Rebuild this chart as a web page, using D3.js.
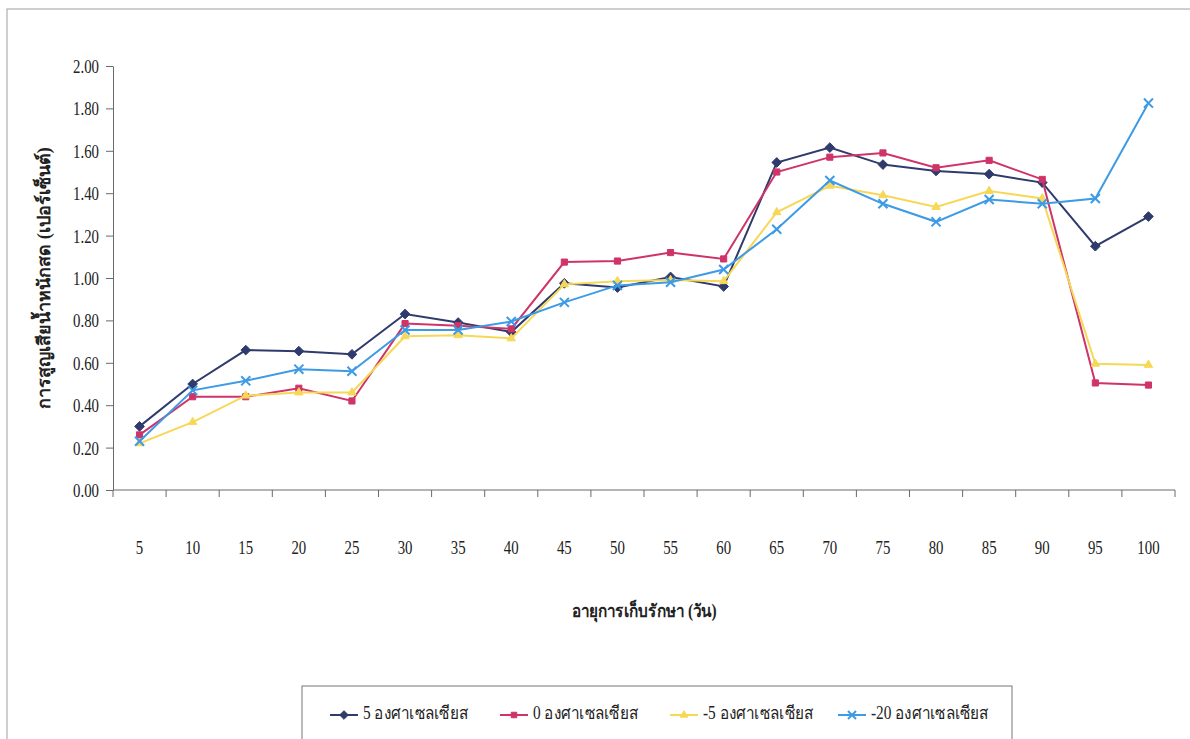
<!DOCTYPE html>
<html>
<head>
<meta charset="utf-8">
<script src="https://cdn.jsdelivr.net/npm/d3@7"></script>
<style>
  body { margin: 0; background: #fff; }
  svg { display: block; }
</style>
</head>
<body>
<svg id="chart" width="1190" height="739"></svg>
<script>
const WIDTH = 1190;
const HEIGHT = 739;

// storage days
const days = [5, 10, 15, 20, 25, 30, 35, 40, 45, 50, 55, 60, 65, 70, 75, 80, 85, 90, 95, 100];
const yTicks = [0, 0.2, 0.4, 0.6, 0.8, 1.0, 1.2, 1.4, 1.6, 1.8, 2.0];

const temp5 = [0.30, 0.50, 0.66, 0.655, 0.64, 0.83, 0.79, 0.745, 0.975, 0.955, 1.005, 0.96,
  1.545, 1.615, 1.535, 1.505, 1.49, 1.45, 1.15, 1.29];
const temp0 = [0.26, 0.44, 0.44, 0.48, 0.42, 0.785, 0.775, 0.76, 1.075, 1.08, 1.12, 1.09,
  1.50, 1.57, 1.59, 1.52, 1.555, 1.465, 0.505, 0.495];
const tempMinus5 = [0.22, 0.32, 0.445, 0.46, 0.46, 0.725, 0.73, 0.715, 0.97, 0.985, 0.99, 0.985,
  1.31, 1.435, 1.39, 1.335, 1.41, 1.375, 0.595, 0.59];
const tempMinus20 = [0.23, 0.47, 0.515, 0.57, 0.56, 0.755, 0.755, 0.795, 0.885, 0.965, 0.98, 1.04,
  1.23, 1.46, 1.35, 1.265, 1.37, 1.35, 1.375, 1.825];

const seriesNames = ['5 องศาเซลเซียส', '0 องศาเซลเซียส', '-5 องศาเซลเซียส', '-20 องศาเซลเซียส'];

const series = [
  { name: seriesNames[0], values: temp5, color: '#2f3b6c', marker: d3.symbolDiamond2, size: 60, fill: true },
  { name: seriesNames[1], values: temp0, color: '#cf3468', marker: d3.symbolSquare2, size: 48, fill: true },
  { name: seriesNames[2], values: tempMinus5, color: '#f7d856', marker: d3.symbolTriangle2, size: 50, fill: true },
  { name: seriesNames[3], values: tempMinus20, color: '#3d9be6', marker: d3.symbolX, size: 55, fill: false },
];

const margin = { left: 113, right: 15, top: 66, bottom: 249 };
const svg = d3.select('#chart');

// outer frame
svg.append('rect')
  .attr('x', 7).attr('y', 9)
  .attr('width', 1190).attr('height', 760)
  .attr('fill', 'none')
  .attr('stroke', '#a0a0a0')
  .attr('stroke-width', 1);

const x = d3.scaleBand().domain(days).range([margin.left, WIDTH - margin.right]);
const y = d3.scaleLinear().domain([0, 2]).range([HEIGHT - margin.bottom, margin.top]);
const serifFont = 'Liberation Serif, Times New Roman, DejaVu Serif, serif';
const NUM_SIZE = 19;
const NUM_SQUEEZE = 0.78;

// y axis
const yAxis = svg.append('g')
  .attr('transform', `translate(${margin.left},0)`)
  .call(d3.axisLeft(y).tickValues(yTicks).tickFormat(d3.format('.2f')).tickSize(7).tickSizeOuter(0));
yAxis.attr('font-family', null).attr('font-size', null);
yAxis.select('.domain').attr('stroke', '#6a6a6a');
yAxis.selectAll('.tick line').attr('stroke', '#6a6a6a');
yAxis.selectAll('text')
  .attr('font-family', serifFont)
  .attr('font-size', NUM_SIZE)
  .attr('fill', '#222')
  .attr('x', -14 / NUM_SQUEEZE)
  .attr('dy', '0.34em')
  .attr('transform', `scale(${NUM_SQUEEZE},1)`);

// x axis (ticks between categories)
const xAxisG = svg.append('g').attr('transform', `translate(0,${y(0)})`);
xAxisG.append('line')
  .attr('x1', margin.left).attr('x2', WIDTH - margin.right)
  .attr('stroke', '#6a6a6a');
const boundaries = days.map((d) => x(d)).concat([x(days[days.length - 1]) + x.bandwidth()]);
xAxisG.selectAll('.xtick').data(boundaries).enter()
  .append('line')
  .attr('class', 'xtick')
  .attr('x1', (d) => d).attr('x2', (d) => d)
  .attr('y1', 0).attr('y2', 7)
  .attr('stroke', '#6a6a6a');
xAxisG.selectAll('.xlabel').data(days).enter()
  .append('text')
  .attr('class', 'xlabel')
  .attr('transform', (d) => `translate(${x(d) + x.bandwidth() / 2},58) scale(${NUM_SQUEEZE},1)`)
  .attr('text-anchor', 'middle')
  .attr('dy', '0.34em')
  .attr('font-family', serifFont)
  .attr('font-size', NUM_SIZE)
  .attr('fill', '#222')
  .text((d) => d);

// axis titles
svg.append('text')
  .attr('transform', `translate(${(margin.left + WIDTH - margin.right) / 2},613) scale(0.85,1)`)
  .attr('text-anchor', 'middle')
  .attr('dominant-baseline', 'middle')
  .attr('font-family', serifFont)
  .attr('font-size', 18)
  .attr('font-weight', 'bold')
  .attr('fill', '#222')
  .text('อายุการเก็บรักษา (วัน)');

svg.append('text')
  .attr('transform', `translate(46,${y(1)}) rotate(-90)`)
  .attr('text-anchor', 'middle')
  .attr('dominant-baseline', 'middle')
  .attr('font-family', serifFont)
  .attr('font-size', 18)
  .attr('font-weight', 'bold')
  .attr('fill', '#222')
  .text('การสูญเสียน้ำหนักสด (เปอร์เซ็นต์)');

// lines and markers
const cx = (i) => x(days[i]) + x.bandwidth() / 2;
const line = d3.line().x((d, i) => cx(i)).y((d) => y(d));

series.forEach((s) => {
  const g = svg.append('g');
  g.append('path')
    .datum(s.values)
    .attr('d', line)
    .attr('fill', 'none')
    .attr('stroke', s.color)
    .attr('stroke-width', 2);
  g.selectAll('path.marker').data(s.values).enter()
    .append('path')
    .attr('class', 'marker')
    .attr('d', d3.symbol().type(s.marker).size(s.size))
    .attr('transform', (d, i) => `translate(${cx(i)},${y(d)})`)
    .attr('fill', s.fill ? s.color : 'none')
    .attr('stroke', s.color)
    .attr('stroke-width', s.fill ? 1 : 2);
});

// legend
const legend = svg.append('g');
legend.append('rect')
  .attr('x', 302).attr('y', 686)
  .attr('width', 710).attr('height', 60)
  .attr('fill', '#fff')
  .attr('stroke', '#777')
  .attr('stroke-width', 1);
const legendX = [330, 500, 670, 838];
series.forEach((s, i) => {
  const lg = legend.append('g').attr('transform', `translate(${legendX[i]},715)`);
  lg.append('line').attr('x1', 0).attr('x2', 28).attr('stroke', s.color).attr('stroke-width', 2);
  lg.append('path')
    .attr('d', d3.symbol().type(s.marker).size(s.size * 0.8))
    .attr('transform', 'translate(14,0)')
    .attr('fill', s.fill ? s.color : 'none')
    .attr('stroke', s.color)
    .attr('stroke-width', s.fill ? 1 : 2);
  lg.append('text')
    .attr('transform', 'translate(33,0) scale(0.85,1)')
    .attr('dominant-baseline', 'middle')
    .attr('font-family', serifFont)
    .attr('font-size', 18)
    .attr('fill', '#222')
    .text(s.name);
});
</script>
</body>
</html>
